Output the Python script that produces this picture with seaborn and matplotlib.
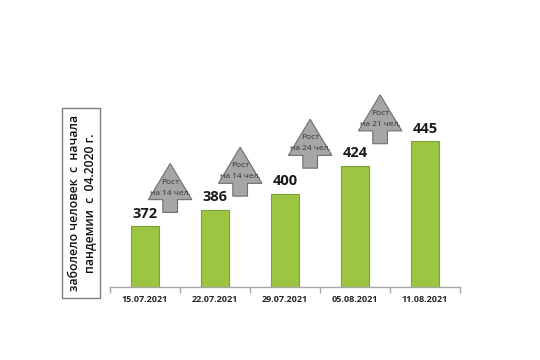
"""Bar chart: cumulative cases since start of pandemic."""

import matplotlib.pyplot as plt
import matplotlib.patches as mpatches
import seaborn as sns
import numpy as np
import pandas as pd

dates = ['15.07.2021', '22.07.2021', '29.07.2021', '05.08.2021', '11.08.2021']
cases = [372, 386, 400, 424, 445]
growth = [14, 14, 24, 21]
ylabel_lines = ['заболело человек  с  начала', 'пандемии  с  04.2020 г.']

sns.set_style('white')
plt.rcParams['font.family'] = ['Open Sans', 'DejaVu Sans']

df = pd.DataFrame({'date': dates, 'cases': cases})

fig = plt.figure(figsize=(5.4, 3.6), dpi=100)
ax = fig.add_axes([0.2037, 0.2028, 0.648, 0.686])

sns.barplot(data=df, x='date', y='cases', color='#9cc641', width=0.41,
            edgecolor='#7e9f38', linewidth=0.8, saturation=1, ax=ax)

ax.set_ylim(320, 532)
ax.set_xlim(-0.5, len(dates) - 0.5)
ax.set_xlabel('')
ax.set_ylabel('')
ax.set_yticks([])

# value labels
for i, v in enumerate(cases):
    ax.text(i, v + 5, str(v), ha='center', va='bottom', fontsize=10.5,
            fontweight='bold', color='#1a1a1a')

# growth arrows between bars
for i, g in enumerate(growth):
    base = cases[i + 1]
    cx = i + 0.36
    hw, sw = 0.31, 0.105
    y0, yh, yt = base - 2, base + 9, base + 40
    pts = [(cx - sw, y0), (cx + sw, y0), (cx + sw, yh), (cx + hw, yh),
           (cx, yt), (cx - hw, yh), (cx - sw, yh)]
    ax.add_patch(mpatches.Polygon(pts, closed=True, facecolor='#a6a6a6',
                                  edgecolor='#6e6e6e', linewidth=0.8, zorder=3))
    ax.text(cx, yh + 15, 'Рост', ha='center', va='center', fontsize=6,
            color='#333333', zorder=4)
    ax.text(cx, yh + 5.5, f'на {g} чел.', ha='center', va='center', fontsize=6,
            color='#333333', zorder=4)

# axis styling
for s in ['top', 'right', 'left']:
    ax.spines[s].set_visible(False)
ax.spines['bottom'].set_color('#a6a6a6')
ax.spines['bottom'].set_linewidth(1)
ax.set_xticks(np.arange(-0.5, len(dates)), minor=True)
ax.tick_params(axis='x', which='major', length=0, labelsize=6.5, pad=6)
ax.tick_params(axis='x', which='minor', length=4, color='#a6a6a6', width=1,
               direction='out', bottom=True)
for lbl in ax.get_xticklabels():
    lbl.set_fontweight('bold')

# boxed y label
fig.patches.append(mpatches.Rectangle((0.115, 0.172), 0.07, 0.528,
                                      transform=fig.transFigure, fill=False,
                                      edgecolor='#7f7f7f', linewidth=1))
fig.text(0.152, 0.436, '\n'.join(ylabel_lines), rotation=90, ha='center',
         va='center', fontsize=8.8, fontweight='semibold', color='#111111',
         linespacing=1.2, multialignment='center')

fig.savefig('out.png', dpi=100)
